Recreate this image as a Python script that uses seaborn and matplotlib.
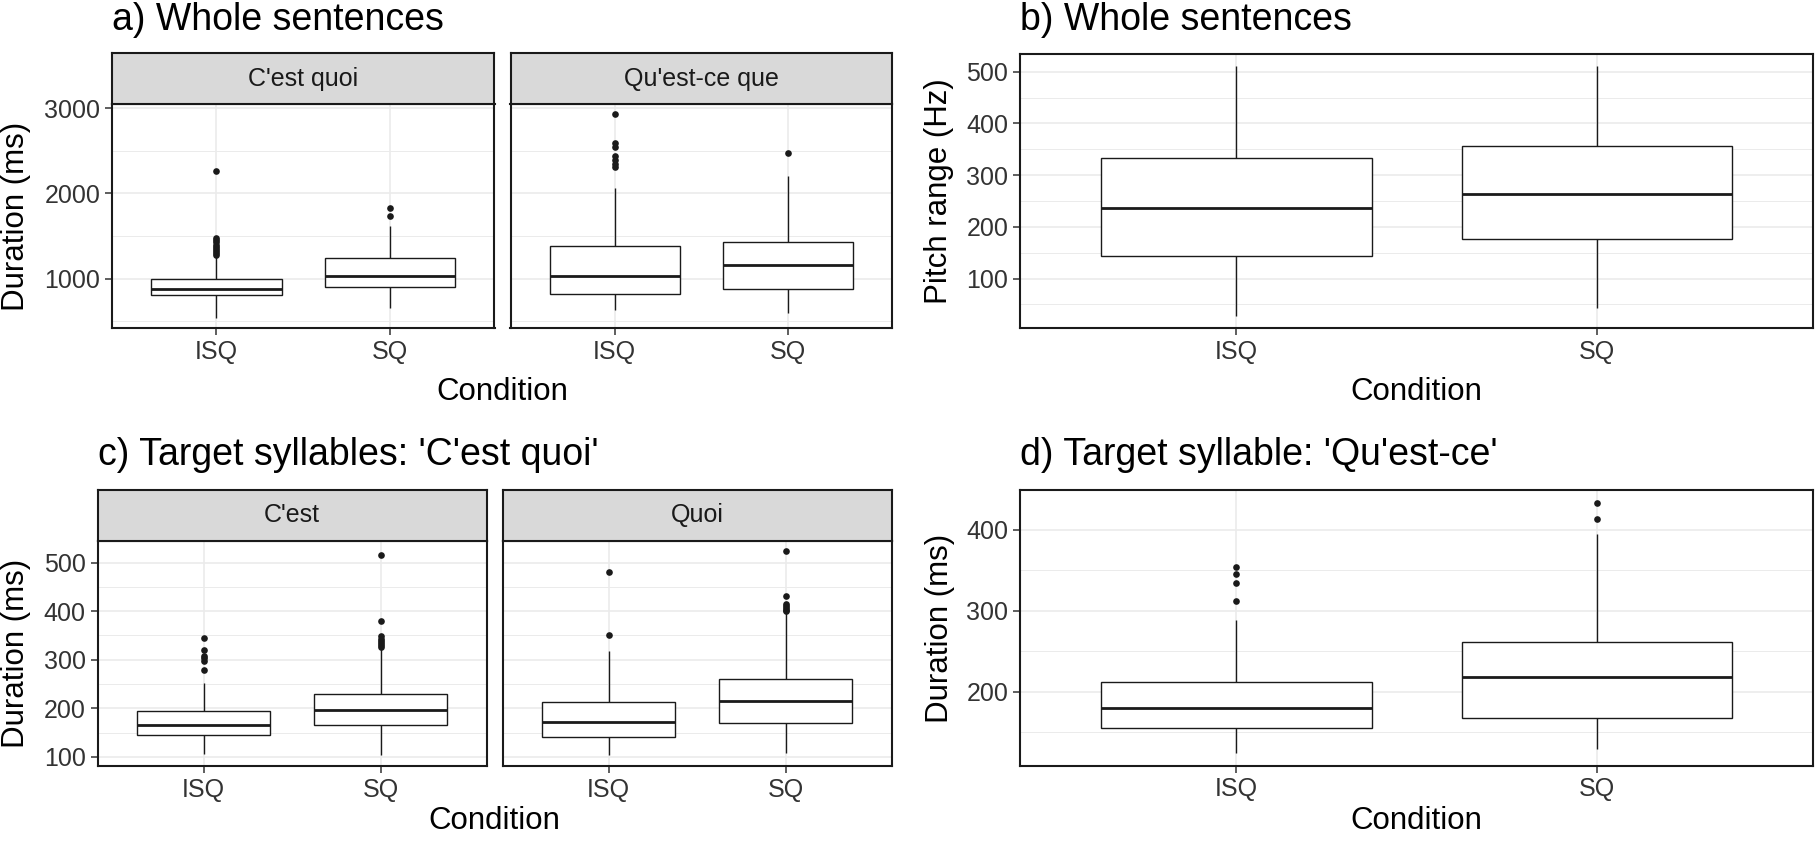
"""Box plots of sentence / syllable durations and pitch range by condition (ISQ vs SQ)."""

import matplotlib
matplotlib.use("Agg")
import matplotlib.pyplot as plt
import pandas as pd
import seaborn as sns

CONDITIONS = ["ISQ", "SQ"]

# five-number summaries:
# (lower whisker, Q1, median, Q3, upper whisker), one row per condition
sent_cest_quoi = [[537, 809, 880, 995, 1255], [654, 903, 1035, 1246, 1616]]
sent_cest_quoi_out = [[1275, 1300, 1320, 1345, 1370, 1400, 1430, 1455, 1480, 2265], [1733, 1831]]
sent_questce_que = [[634, 825, 1035, 1382, 2064], [602, 876, 1157, 1429, 2205]]
sent_questce_que_out = [[2310, 2350, 2396, 2435, 2544, 2591, 2926], [2478]]

pitch_range = [[28, 144, 237, 333, 510], [43, 177, 263, 356, 510]]
pitch_range_out = [[], []]

syl_cest = [[106, 145, 166, 194, 252], [103, 165, 196, 229, 322]]
syl_cest_out = [[279, 298, 303, 308, 320, 344], [327, 330, 334, 338, 342, 348, 379, 516]]
syl_quoi = [[103, 142, 172, 213, 317], [108, 170, 215, 261, 398]]
syl_quoi_out = [[350, 480], [400, 403, 407, 411, 415, 431, 524]]

syl_questce = [[124.5, 155, 180.5, 211.6, 288], [130, 168, 218, 261, 395]]
syl_questce_out = [[312, 334, 345, 354], [413.7, 433.6]]

W, H = 1818, 841
GRID = "#EBEBEB"
INK = "#1A1A1A"

sns.set_style("white")
plt.rcParams["font.family"] = ["Liberation Sans", "DejaVu Sans"]

fig = plt.figure(figsize=(W / 100, H / 100), dpi=100)


def px_axes(x0, y0, x1, y1):
    return fig.add_axes([x0 / W, 1 - y1 / H, (x1 - x0) / W, (y1 - y0) / H])


def long_frame(groups):
    rows = [(c, v) for c, vals in zip(CONDITIONS, groups) for v in vals]
    return pd.DataFrame(rows, columns=["Condition", "value"])


def expanded(*groups):
    vals = [v for g in groups for row in g for v in row]
    lo, hi = min(vals), max(vals)
    pad = 0.05 * (hi - lo)
    return lo - pad, hi + pad


def draw_panel(ax, summary, outliers, ylim, yticks, yminor, show_y=True):
    # whis=(0, 100) so the whiskers go to the read-off whisker ends
    sns.boxplot(data=long_frame(summary), x="Condition", y="value", order=CONDITIONS,
                whis=(0, 100), width=0.75, color="white", saturation=1,
                linecolor=INK, linewidth=1.0, medianprops={"linewidth": 2.0},
                capprops={"linewidth": 0}, ax=ax)
    out_df = long_frame(outliers)
    if len(out_df):
        sns.stripplot(data=out_df, x="Condition", y="value", order=CONDITIONS,
                      jitter=False, color=INK, size=4.8, linewidth=0, ax=ax, zorder=3)
    ax.set_xlim(-0.6, 1.6)
    ax.set_ylim(*ylim)
    ax.set_yticks(yticks)
    ax.set_yticks(yminor, minor=True)
    ax.set_axisbelow(True)
    ax.grid(True, which="major", axis="both", color=GRID, linewidth=1.2)
    ax.grid(True, which="minor", axis="y", color=GRID, linewidth=0.7)
    ax.set_xlabel("")
    ax.set_ylabel("")
    ax.tick_params(which="major", length=5, width=1.1, color="#333333",
                   labelsize=18, labelcolor="#333333", pad=3.5,
                   bottom=True, left=show_y, labelleft=show_y)
    ax.tick_params(which="minor", length=0)
    for sp in ax.spines.values():
        sp.set_color(INK)
        sp.set_linewidth(1.5)


def strip(x0, y0, x1, y1, label):
    sax = px_axes(x0, y0, x1, y1)
    sax.set_facecolor("#D9D9D9")
    sax.set_xticks([])
    sax.set_yticks([])
    for sp in sax.spines.values():
        sp.set_color(INK)
        sp.set_linewidth(1.5)
    sax.text(0.5, 0.5, label, ha="center", va="center", fontsize=18, color=INK,
             transform=sax.transAxes)


def title(x, y, text):
    fig.text(x / W, 1 - y / H, text, ha="left", va="baseline", fontsize=27, color="black")


def xlabel(x, y, text):
    fig.text(x / W, 1 - y / H, text, ha="center", va="baseline", fontsize=22.5, color="black")


def ylabel(x, y, text):
    fig.text(x / W, 1 - y / H, text, ha="center", va="center", rotation=90,
             fontsize=22.5, color="black")


# a) whole sentences, duration, faceted by construction
ylim_a = expanded(sent_cest_quoi, sent_cest_quoi_out, sent_questce_que, sent_questce_que_out)
ax = px_axes(112, 104.3, 494.5, 328.3)
draw_panel(ax, sent_cest_quoi, sent_cest_quoi_out, ylim_a, [1000, 2000, 3000], [500, 1500, 2500])
ax = px_axes(510.5, 104.3, 892, 328.3)
draw_panel(ax, sent_questce_que, sent_questce_que_out, ylim_a, [1000, 2000, 3000],
           [500, 1500, 2500], show_y=False)
strip(112, 53.3, 494.5, 104.3, "C'est quoi")
strip(510.5, 53.3, 892, 104.3, "Qu'est-ce que")
title(112, 30, "a) Whole sentences")
xlabel(502, 400, "Condition")
ylabel(16, 216.3, "Duration (ms)")

# b) whole sentences, pitch range
ax = px_axes(1020, 54, 1813.3, 328.3)
draw_panel(ax, pitch_range, pitch_range_out, expanded(pitch_range),
           [100, 200, 300, 400, 500], [50, 150, 250, 350, 450])
title(1020, 30, "b) Whole sentences")
xlabel(1416.7, 400, "Condition")
ylabel(939, 191, "Pitch range (Hz)")

# c) target syllables of 'C'est quoi'
ylim_c = expanded(syl_cest, syl_cest_out, syl_quoi, syl_quoi_out)
ax = px_axes(97.6, 540.7, 486.8, 765.7)
draw_panel(ax, syl_cest, syl_cest_out, ylim_c, [100, 200, 300, 400, 500], [150, 250, 350, 450])
ax = px_axes(502.5, 540.7, 891.7, 765.7)
draw_panel(ax, syl_quoi, syl_quoi_out, ylim_c, [100, 200, 300, 400, 500],
           [150, 250, 350, 450], show_y=False)
strip(97.6, 490, 486.8, 540.7, "C'est")
strip(502.5, 490, 891.7, 540.7, "Quoi")
title(97.6, 465, "c) Target syllables: 'C'est quoi'")
xlabel(494.6, 829, "Condition")
ylabel(16, 653, "Duration (ms)")

# d) target syllable of 'Qu'est-ce que'
ax = px_axes(1020, 490, 1813.3, 765.5)
draw_panel(ax, syl_questce, syl_questce_out, expanded(syl_questce, syl_questce_out),
           [200, 300, 400], [150, 250, 350])
title(1020, 465, "d) Target syllable: 'Qu'est-ce'")
xlabel(1416.7, 829, "Condition")
ylabel(940, 628, "Duration (ms)")

fig.savefig("out.png", dpi=100, facecolor="white")
